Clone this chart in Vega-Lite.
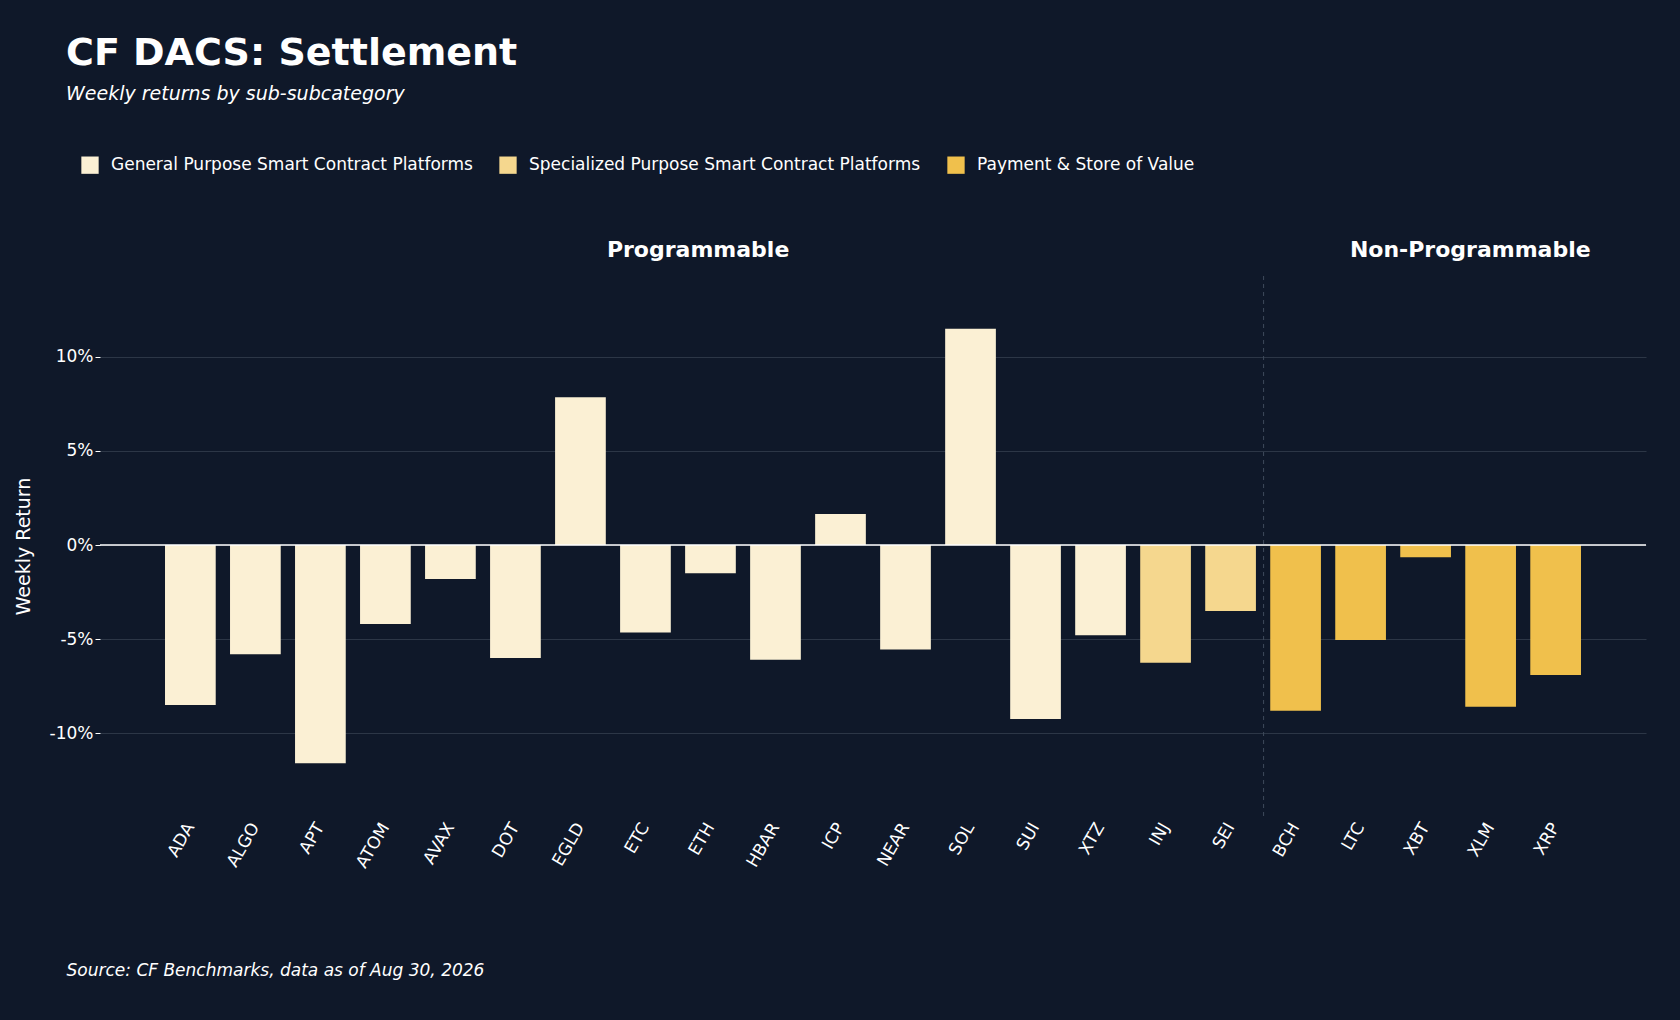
{
  "$schema": "https://vega.github.io/schema/vega-lite/v6.json",
  "width": 1546,
  "height": 540,
  "autosize": "none",
  "padding": {"left": 100, "top": 276, "right": 34, "bottom": 204},
  "background": "#0f1829",
  "title": {
    "text": "CF DACS: Settlement",
    "subtitle": "Weekly returns by sub-subcategory",
    "anchor": "start",
    "frame": "group",
    "dx": -34,
    "offset": 52,
    "color": "white",
    "font": "DejaVu Sans",
    "fontSize": 38,
    "fontWeight": "bold",
    "subtitleColor": "white",
    "subtitleFont": "DejaVu Sans",
    "subtitleFontSize": 19,
    "subtitleFontStyle": "italic",
    "subtitlePadding": 12
  },
  "config": {
    "view": {"stroke": null},
    "font": "DejaVu Sans"
  },
  "data": {
    "values": [
      {"coin": "ADA", "ret": -8.5, "cat": "General Purpose Smart Contract Platforms"},
      {"coin": "ALGO", "ret": -5.8, "cat": "General Purpose Smart Contract Platforms"},
      {"coin": "APT", "ret": -11.6, "cat": "General Purpose Smart Contract Platforms"},
      {"coin": "ATOM", "ret": -4.2, "cat": "General Purpose Smart Contract Platforms"},
      {"coin": "AVAX", "ret": -1.8, "cat": "General Purpose Smart Contract Platforms"},
      {"coin": "DOT", "ret": -6.0, "cat": "General Purpose Smart Contract Platforms"},
      {"coin": "EGLD", "ret": 7.85, "cat": "General Purpose Smart Contract Platforms"},
      {"coin": "ETC", "ret": -4.65, "cat": "General Purpose Smart Contract Platforms"},
      {"coin": "ETH", "ret": -1.5, "cat": "General Purpose Smart Contract Platforms"},
      {"coin": "HBAR", "ret": -6.1, "cat": "General Purpose Smart Contract Platforms"},
      {"coin": "ICP", "ret": 1.65, "cat": "General Purpose Smart Contract Platforms"},
      {"coin": "NEAR", "ret": -5.55, "cat": "General Purpose Smart Contract Platforms"},
      {"coin": "SOL", "ret": 11.5, "cat": "General Purpose Smart Contract Platforms"},
      {"coin": "SUI", "ret": -9.25, "cat": "General Purpose Smart Contract Platforms"},
      {"coin": "XTZ", "ret": -4.8, "cat": "General Purpose Smart Contract Platforms"},
      {"coin": "INJ", "ret": -6.25, "cat": "Specialized Purpose Smart Contract Platforms"},
      {"coin": "SEI", "ret": -3.5, "cat": "Specialized Purpose Smart Contract Platforms"},
      {"coin": "BCH", "ret": -8.8, "cat": "Payment & Store of Value"},
      {"coin": "LTC", "ret": -5.05, "cat": "Payment & Store of Value"},
      {"coin": "XBT", "ret": -0.65, "cat": "Payment & Store of Value"},
      {"coin": "XLM", "ret": -8.6, "cat": "Payment & Store of Value"},
      {"coin": "XRP", "ret": -6.9, "cat": "Payment & Store of Value"}
    ]
  },
  "encoding": {
    "x": {
      "field": "coin",
      "type": "nominal",
      "sort": null,
      "scale": {"paddingInner": 0.22, "paddingOuter": 1.11},
      "axis": {
        "title": "Source: CF Benchmarks, data as of Aug 30, 2026",
        "titleAnchor": "start",
        "titleAlign": "left",
        "titleX": -34,
        "titleY": 146,
        "titleColor": "white",
        "titleFontSize": 17,
        "titleFontStyle": "italic",
        "titleFontWeight": "normal",
        "labelAngle": -60,
        "labelColor": "white",
        "labelFontSize": 17,
        "labelPadding": 8,
        "domain": false,
        "ticks": false
      }
    }
  },
  "layer": [
    {
      "mark": {"type": "bar"},
      "encoding": {
        "y": {
          "field": "ret",
          "type": "quantitative",
          "scale": {"domain": [-14.4, 14.3], "nice": false},
          "axis": {
            "title": "Weekly Return",
            "titleColor": "white",
            "titleFontSize": 19,
            "titleFontWeight": "normal",
            "titlePadding": 16,
            "values": [-10, -5, 0, 5, 10],
            "labelExpr": "datum.value + '%'",
            "labelColor": "white",
            "labelFontSize": 17,
            "tickColor": "white",
            "tickSize": 5,
            "domain": false,
            "gridColor": "#2c3646",
            "gridWidth": 1
          }
        },
        "color": {
          "field": "cat",
          "type": "nominal",
          "scale": {
            "domain": ["General Purpose Smart Contract Platforms", "Specialized Purpose Smart Contract Platforms", "Payment & Store of Value"],
            "range": ["#fbf0d4", "#f5d78e", "#f0c04c"]
          },
          "legend": {
            "title": null,
            "orient": "none",
            "legendX": -19,
            "legendY": -120,
            "direction": "horizontal",
            "symbolType": "square",
            "symbolSize": 300,
            "symbolStrokeWidth": 0,
            "labelColor": "white",
            "labelFontSize": 17,
            "labelLimit": 0,
            "labelOffset": 12,
            "columnPadding": 26
          }
        }
      }
    },
    {
      "data": {"values": [{"v": 0}]},
      "mark": {"type": "rule", "color": "white", "strokeWidth": 1.5},
      "encoding": {"y": {"field": "v", "type": "quantitative"}, "x": null}
    },
    {
      "data": {"values": [{"coin": "BCH"}]},
      "mark": {"type": "rule", "color": "#3e4a5c", "strokeDash": [4, 4], "xOffset": -32},
      "encoding": {"x": {"field": "coin", "type": "nominal"}}
    },
    {
      "data": {"values": [{"coin": "ETH", "label": "Programmable", "y": 15.7, "dx": 13}, {"coin": "XBT", "label": "Non-Programmable", "y": 15.7, "dx": 70}]},
      "mark": {"type": "text", "color": "white", "fontSize": 22, "fontWeight": "bold", "baseline": "middle"},
      "encoding": {
        "x": {"field": "coin", "type": "nominal"},
        "y": {"field": "y", "type": "quantitative"},
        "xOffset": {"field": "dx", "type": "quantitative", "scale": null},
        "text": {"field": "label"}
      }
    }
  ]
}
